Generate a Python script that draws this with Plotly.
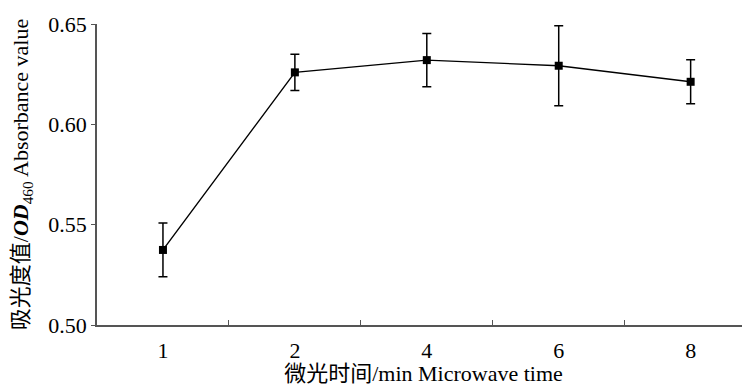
import plotly.graph_objects as go

categories = ["1", "2", "4", "6", "8"]
absorbance = [0.5374, 0.6259, 0.6320, 0.6292, 0.6212]
error = [0.0134, 0.0090, 0.0133, 0.0199, 0.0110]
y_ticks = [0.50, 0.55, 0.60, 0.65]
y_tick_labels = ["0.50", "0.55", "0.60", "0.65"]

font_family = "Liberation Serif, Noto Sans CJK SC, serif"

fig = go.Figure()
fig.add_trace(go.Scatter(
    x=categories, y=absorbance,
    mode="lines+markers",
    line=dict(color="black", width=1.4),
    marker=dict(symbol="square", size=8, color="black"),
    error_y=dict(type="data", array=error, visible=True, color="black",
                 thickness=1.5, width=4.5),
    showlegend=False,
))

# page body has an 8px default margin: figure is sized to fill the rest
fig.update_layout(
    width=742, height=378,
    margin=dict(l=89, r=0, t=16, b=61),
    paper_bgcolor="white", plot_bgcolor="white",
    font=dict(family=font_family, size=22, color="black"),
    xaxis=dict(
        type="category",
        range=[-0.5, 4.45],
        automargin=False,
        showline=True, linecolor="#555555", linewidth=1.6,
        ticks="inside", tickson="boundaries", ticklen=5,
        tickcolor="#555555", tickwidth=1.2,
        showgrid=False, zeroline=False,
        tickfont=dict(size=22),
        ticklabelstandoff=5,
        title=dict(text="微光时间/min Microwave time", font=dict(size=22), standoff=2),
    ),
    yaxis=dict(
        range=[0.50, 0.65],
        automargin=False,
        tickvals=y_ticks, ticktext=y_tick_labels,
        showline=True, linecolor="#555555", linewidth=1.6,
        ticks="outside", ticklen=4, tickcolor="#555555", tickwidth=1.2,
        showgrid=False, zeroline=False,
        tickfont=dict(size=22),
        title=dict(text="吸光度值/<b><i>OD</i></b><sub>460</sub> Absorbance value",
                   font=dict(size=22), standoff=18),
    ),
)

fig.write_html("out.html")
